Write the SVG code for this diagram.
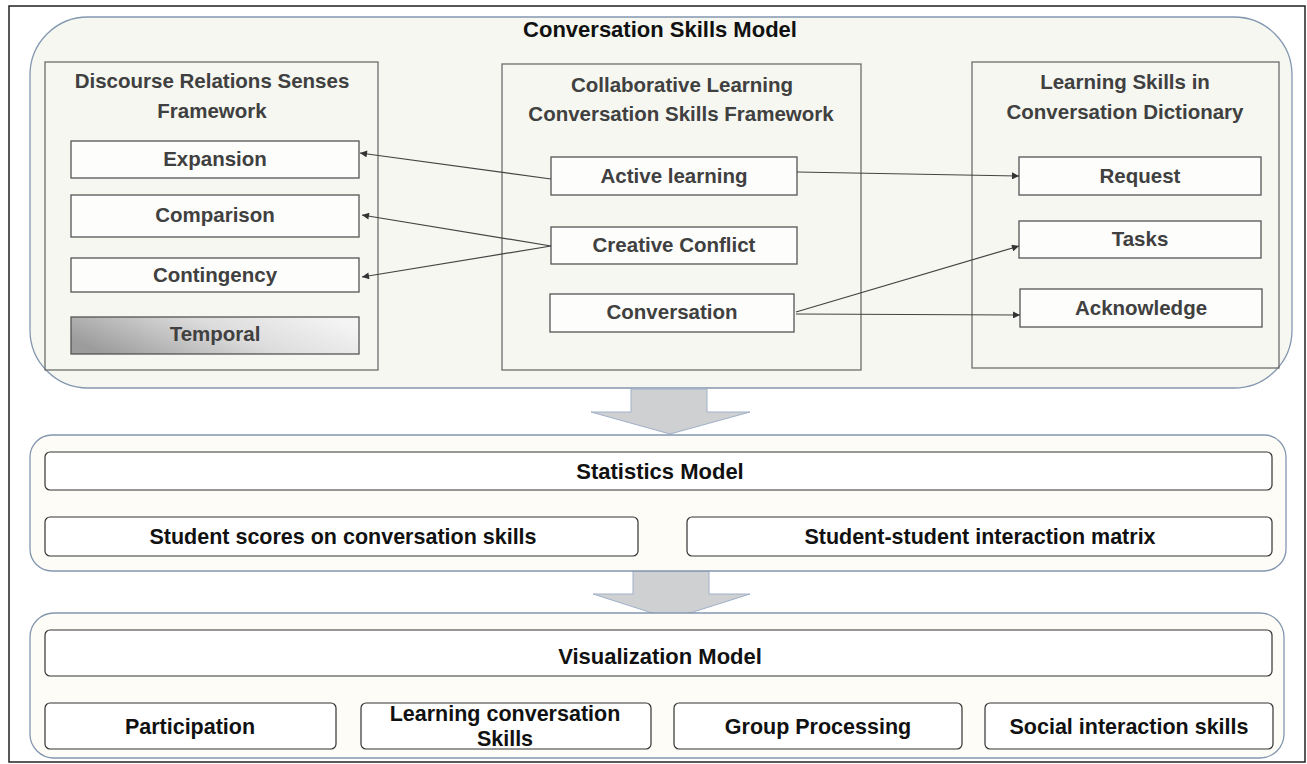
<svg xmlns="http://www.w3.org/2000/svg" width="1307" height="764" viewBox="0 0 1307 764">
<defs>
<style>
.t{font-family:"Liberation Sans",Arial,sans-serif;font-weight:bold;text-anchor:middle}
.fw{fill:#404040;font-size:20.5px}
.big{fill:#111;font-size:22px}
.bot{fill:#111;font-size:21.5px}
.frame{fill:none;stroke:#6d6d6d;stroke-width:1.3}
.inner{fill:#fdfdfb;stroke:#555;stroke-width:1.3}
.sec{stroke:#8497b0;stroke-width:1.3}
.bar{fill:#fff;stroke:#333;stroke-width:1.2}
.con{fill:none;stroke:#444;stroke-width:1.2;marker-end:url(#ah)}
.blk{fill:#cfd0d2;stroke:#9fb0c6;stroke-width:1}
</style>
<marker id="ah" viewBox="0 0 10 10" refX="10" refY="5" markerWidth="9" markerHeight="7" markerUnits="userSpaceOnUse" orient="auto">
<path d="M0,0 L10,5 L0,10 z" fill="#333"/>
</marker>
<linearGradient id="gr" x1="0" y1="0.6" x2="1" y2="0.3">
<stop offset="0" stop-color="#9c9c9c"/>
<stop offset="0.55" stop-color="#dcdcdc"/>
<stop offset="1" stop-color="#f4f4f4"/>
</linearGradient>
</defs>
<rect x="9" y="6" width="1296" height="756" fill="#fff" stroke="#222" stroke-width="1.5"/>

<g id="conversation-skills-model">
<rect x="30" y="17" width="1262" height="371" rx="58" ry="58" fill="#f5f7f0" class="sec"/>
<text class="t big" x="660" y="37">Conversation Skills Model</text>
</g>

<g id="discourse-framework">
<rect class="frame" x="45" y="62" width="333" height="308"/>
<text class="t fw" x="212" y="88">Discourse Relations Senses</text>
<text class="t fw" x="212" y="118">Framework</text>
</g>
<g id="expansion"><rect class="inner" x="71" y="141" width="288" height="37"/><text class="t fw" x="215" y="166">Expansion</text></g>
<g id="comparison"><rect class="inner" x="71" y="195" width="288" height="42"/><text class="t fw" x="215" y="222">Comparison</text></g>
<g id="contingency"><rect class="inner" x="71" y="258" width="288" height="34"/><text class="t fw" x="215" y="282">Contingency</text></g>
<g id="temporal"><rect x="71" y="317" width="288" height="37" fill="url(#gr)" stroke="#555" stroke-width="1.3"/><text class="t fw" x="215" y="341">Temporal</text></g>

<g id="collaborative-framework">
<rect class="frame" x="502" y="64" width="359" height="306"/>
<text class="t fw" x="682" y="92">Collaborative Learning</text>
<text class="t fw" x="681" y="121">Conversation Skills Framework</text>
</g>
<g id="active-learning"><rect class="inner" x="551" y="157" width="246" height="38"/><text class="t fw" x="674" y="183">Active learning</text></g>
<g id="creative-conflict"><rect class="inner" x="551" y="227" width="246" height="37"/><text class="t fw" x="674" y="252">Creative Conflict</text></g>
<g id="conversation"><rect class="inner" x="550" y="294" width="244" height="38"/><text class="t fw" x="672" y="319">Conversation</text></g>

<g id="dictionary">
<rect class="frame" x="972" y="62" width="307" height="306"/>
<text class="t fw" x="1125" y="89">Learning Skills in</text>
<text class="t fw" x="1125" y="119">Conversation Dictionary</text>
</g>
<g id="request"><rect class="inner" x="1019" y="157" width="242" height="38"/><text class="t fw" x="1140" y="183">Request</text></g>
<g id="tasks"><rect class="inner" x="1019" y="221" width="242" height="37"/><text class="t fw" x="1140" y="246">Tasks</text></g>
<g id="acknowledge"><rect class="inner" x="1020" y="289" width="242" height="38"/><text class="t fw" x="1141" y="315">Acknowledge</text></g>

<g id="connectors">
<line class="con" x1="551" y1="179" x2="360" y2="153"/>
<line class="con" x1="551" y1="246" x2="362" y2="215"/>
<line class="con" x1="551" y1="246" x2="362" y2="277"/>
<line class="con" x1="797" y1="172" x2="1019" y2="176"/>
<line class="con" x1="796" y1="312" x2="1019" y2="246"/>
<line class="con" x1="796" y1="314" x2="1020" y2="315"/>
<path class="blk" d="M631,389 L707,389 L707,412 L750,412 L670,434 L591,412 L631,412 Z"/>
<path class="blk" d="M633,571 L709,571 L709,594 L750,594 L671,619 L593,594 L633,594 Z"/>
</g>

<g id="statistics-model">
<rect x="30" y="435" width="1256" height="136" rx="22" ry="22" fill="#fdfcf6" class="sec"/>
</g>
<g id="statistics-bar"><rect class="bar" x="45" y="452" width="1227" height="38" rx="5"/><text class="t big" x="660" y="479">Statistics Model</text></g>
<g id="student-scores"><rect class="bar" x="45" y="517" width="593" height="39" rx="5"/><text class="t bot" x="343" y="544">Student scores on conversation skills</text></g>
<g id="interaction-matrix"><rect class="bar" x="687" y="517" width="585" height="39" rx="5"/><text class="t bot" x="980" y="544">Student-student interaction matrix</text></g>

<g id="visualization-model">
<rect x="30" y="613" width="1254" height="145" rx="24" ry="24" fill="#fdfcf6" class="sec"/>
</g>
<g id="visualization-bar"><rect class="bar" x="45" y="630" width="1227" height="46" rx="5"/><text class="t big" x="660" y="664">Visualization Model</text></g>
<g id="participation"><rect class="bar" x="45" y="703" width="291" height="46" rx="5"/><text class="t bot" x="190" y="734">Participation</text></g>
<g id="learning-conversation-skills"><rect class="bar" x="361" y="703" width="290" height="46" rx="5"/><text class="t bot" x="505" y="721">Learning conversation</text><text class="t bot" x="505" y="746">Skills</text></g>
<g id="group-processing"><rect class="bar" x="674" y="703" width="288" height="46" rx="5"/><text class="t bot" x="818" y="734">Group Processing</text></g>
<g id="social-interaction"><rect class="bar" x="985" y="703" width="288" height="46" rx="5"/><text class="t bot" x="1129" y="734">Social interaction skills</text></g>
</svg>
